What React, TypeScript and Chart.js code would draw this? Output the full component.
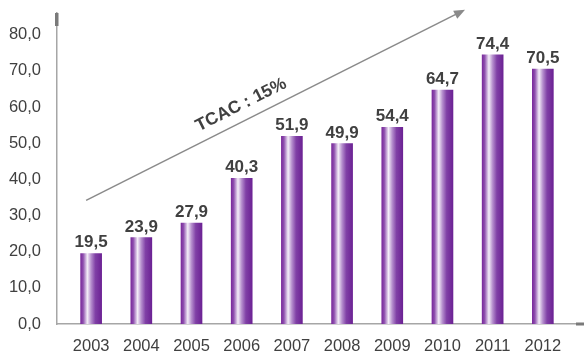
import React, { useEffect, useRef } from "react";
import { Chart, registerables } from "chart.js";

Chart.register(...registerables);

const YEARS = [2003, 2004, 2005, 2006, 2007, 2008, 2009, 2010, 2011, 2012];
const VALUES = [19.5, 23.9, 27.9, 40.3, 51.9, 49.9, 54.4, 64.7, 74.4, 70.5];
const Y_TICKS = [0, 10, 20, 30, 40, 50, 60, 70, 80];
const TREND_LABEL = "TCAC : 15%";
const TREND_START = { x: 2002.9, y: 34.2 };
const TREND_END = { x: 2010.45, y: 86.9 };
const TREND_TEXT_AT = { x: 2005.99, y: 60.6 };

const fmt = (v: number) => v.toFixed(1).replace(".", ",");
const TICK_FONT = "'Liberation Sans', Arial, sans-serif";
const BOLD_FONT = "'Liberation Sans', Arial, sans-serif";
const TEXT_COLOR = "#404040";

export default function App() {
  const ref = useRef<HTMLCanvasElement | null>(null);

  useEffect(() => {
    if (!ref.current) return;

    const overlay = {
      id: "overlay",
      afterDatasetsDraw(chart: any) {
        const c = chart.ctx;
        const xs = chart.scales.x;
        const ys = chart.scales.y;
        const meta = chart.getDatasetMeta(0);
        c.save();
        c.fillStyle = TEXT_COLOR;
        c.font = `bold 17px ${BOLD_FONT}`;
        c.textAlign = "center";
        c.textBaseline = "alphabetic";
        meta.data.forEach((bar: any, i: number) => {
          c.fillText(fmt(VALUES[i]), bar.x, bar.y - 6);
        });
        c.restore();

        const x1 = xs.getPixelForValue(TREND_START.x);
        const y1 = ys.getPixelForValue(TREND_START.y);
        const x2 = xs.getPixelForValue(TREND_END.x);
        const y2 = ys.getPixelForValue(TREND_END.y);
        const ang = Math.atan2(y2 - y1, x2 - x1);
        const headLen = 11;
        const headW = 4.5;
        c.save();
        c.strokeStyle = "#8a8a8a";
        c.fillStyle = "#8a8a8a";
        c.lineWidth = 1.5;
        c.beginPath();
        c.moveTo(x1, y1);
        c.lineTo(x2 - Math.cos(ang) * headLen * 0.8, y2 - Math.sin(ang) * headLen * 0.8);
        c.stroke();
        c.beginPath();
        c.moveTo(x2, y2);
        const bx = x2 - Math.cos(ang) * headLen;
        const by = y2 - Math.sin(ang) * headLen;
        c.lineTo(bx + Math.sin(ang) * headW, by - Math.cos(ang) * headW);
        c.lineTo(bx - Math.sin(ang) * headW, by + Math.cos(ang) * headW);
        c.closePath();
        c.fill();
        c.restore();

        const tx = xs.getPixelForValue(TREND_TEXT_AT.x);
        const ty = ys.getPixelForValue(TREND_TEXT_AT.y);
        c.save();
        c.translate(tx, ty);
        c.rotate(ang);
        c.fillStyle = TEXT_COLOR;
        c.font = `bold 17.5px ${BOLD_FONT}`;
        c.textAlign = "center";
        c.textBaseline = "middle";
        c.fillText(TREND_LABEL, 0, 0);
        c.restore();

        const a = chart.chartArea;
        c.save();
        c.fillStyle = "#7a7a7a";
        c.fillRect(a.left - 2, a.top, 3.5, 13);
        c.fillRect(a.right - 8, a.bottom - 1.5, 8, 3);
        c.restore();
      },
    };

    const chart = new Chart(ref.current, {
      type: "bar",
      data: {
        datasets: [
          {
            data: YEARS.map((y, i) => ({ x: y, y: VALUES[i] })),
            barThickness: 21,
            borderWidth: 0,
            backgroundColor: (ctx: any) => {
              const ch = ctx.chart;
              const xs = ch.scales?.x;
              if (!xs || !ctx.parsed) return "#7b2d9e";
              const cx = xs.getPixelForValue(ctx.parsed.x);
              if (!Number.isFinite(cx)) return "#7b2d9e";
              const g = ch.ctx.createLinearGradient(cx - 10.5, 0, cx + 10.5, 0);
              g.addColorStop(0, "#7a2a9c");
              g.addColorStop(0.12, "#8e4fae");
              g.addColorStop(0.32, "#f4eef8");
              g.addColorStop(0.5, "#b58ecd");
              g.addColorStop(0.7, "#8040a6");
              g.addColorStop(1, "#6c2294");
              return g;
            },
          },
        ],
      },
      options: {
        responsive: false,
        animation: false,
        layout: { padding: { top: 13, left: 0, right: 0, bottom: 0 } },
        plugins: {
          legend: { display: false },
          tooltip: { enabled: false },
        },
        scales: {
          x: {
            type: "linear",
            offset: false,
            min: 2002.32,
            max: 2012.82,
            afterBuildTicks: (s: any) => {
              s.ticks = YEARS.map((v) => ({ value: v }));
            },
            afterFit: (s: any) => {
              s.height = 31;
              s.paddingLeft = 0;
              s.paddingRight = 0;
            },
            grid: { display: false, drawTicks: false, offset: false },
            border: { display: true, color: "#a6a6a6", width: 1.5 },
            ticks: {
              padding: 13,
              color: TEXT_COLOR,
              font: { family: TICK_FONT, size: 16.5 },
              autoSkip: false,
              maxRotation: 0,
              callback: (v: any) => String(v),
            },
          },
          y: {
            min: 0,
            max: 86,
            afterBuildTicks: (s: any) => {
              s.ticks = Y_TICKS.map((v) => ({ value: v }));
            },
            afterFit: (s: any) => {
              s.width = 57;
              s.paddingTop = 0;
              s.paddingBottom = 0;
            },
            grid: { display: false, drawTicks: false },
            border: { display: true, color: "#a6a6a6", width: 1.5 },
            ticks: {
              padding: 16,
              color: TEXT_COLOR,
              font: { family: TICK_FONT, size: 16.5 },
              callback: (v: any) => fmt(Number(v)),
            },
          },
        },
      },
      plugins: [overlay],
    });

    return () => chart.destroy();
  }, []);

  return (
    <div style={{ position: "fixed", left: 0, top: 0, width: 584, height: 355, background: "#fff" }}>
      <canvas ref={ref} width={584} height={355} style={{ display: "block" }} />
    </div>
  );
}
